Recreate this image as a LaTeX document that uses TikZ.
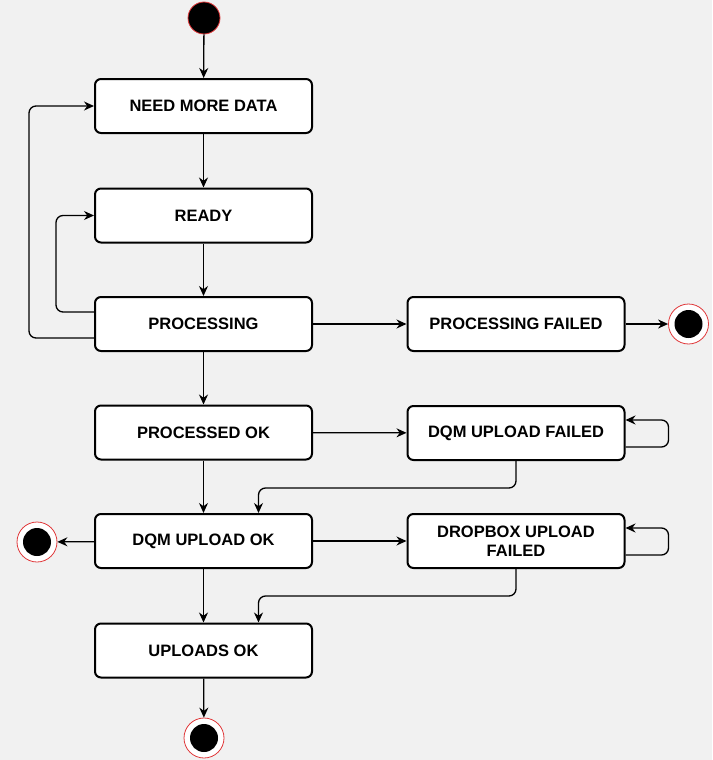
\documentclass[tikz,border=0pt]{standalone}
\usepackage{fontspec}
\setmainfont{Liberation Sans}
\usetikzlibrary{arrows.meta}
\definecolor{bg}{HTML}{F1F1F1}
\definecolor{ring}{HTML}{E0383A}
\begin{document}
\begin{tikzpicture}[x=1pt,y=-1pt,
  state/.style={draw=black, line width=2pt, fill=white, rounded corners=6pt,
    minimum width=217pt, minimum height=54pt, inner sep=0pt, align=center,
    font=\bfseries\fontsize{16.5}{19}\selectfont},
  conn/.style={draw=black, line width=1.3pt, -{Stealth[length=10pt,width=9pt]}, rounded corners=7pt},
  initst/.style={circle, fill=black, draw=ring, line width=0.8pt, minimum size=32pt, inner sep=0pt},
  finalst/.style={circle, fill=white, draw=ring, line width=0.8pt, minimum size=40pt, inner sep=0pt,
    path picture={\fill[black] (path picture bounding box.center) circle (14pt);}}
]
\fill[bg] (0,0) rectangle (712,760);
\path[use as bounding box] (0,0) rectangle (712,760);

\node[initst] (init) at (204,18) {};
\node[state] (need) at (203.5,106) {NEED MORE DATA};
\node[state] (ready) at (203.5,215.5) {READY};
\node[state] (proc) at (203.5,324) {PROCESSING};
\node[state] (pok) at (203.5,432.5) {PROCESSED OK};
\node[state] (dok) at (203.5,541) {DQM UPLOAD OK};
\node[state] (upok) at (203.5,650.5) {UPLOADS OK};
\node[state] (pfail) at (516,324) {PROCESSING FAILED};
\node[state] (dfail) at (516,433) {DQM UPLOAD FAILED};
\node[state] (xfail) at (516,541) {DROPBOX UPLOAD\\FAILED};
\node[finalst] (fin1) at (688.5,324) {};
\node[finalst] (fin2) at (37,542) {};
\node[finalst] (fin3) at (204,738) {};

\draw[conn] (init) -- (need);
\draw[conn] (need) -- (ready);
\draw[conn] (ready) -- (proc);
\draw[conn] ([yshift=12pt]proc.west) -- ++(-38,0) |- (ready.west);
\draw[conn] ([yshift=-14pt]proc.west) -- ++(-65,0) |- (need.west);
\draw[conn] (proc) -- (pfail);
\draw[conn] (pfail) -- (fin1);
\draw[conn] (proc) -- (pok);
\draw[conn] (pok) -- (dfail);
\draw[conn] ([yshift=-14pt]dfail.east) -- ++(43,0) |- ([yshift=13pt]dfail.east);
\draw[conn] (dfail.south) -- ++(0,27) -| ([xshift=55pt]dok.north);
\draw[conn] (pok) -- (dok);
\draw[conn] (dok) -- (fin2);
\draw[conn] (dok) -- (xfail);
\draw[conn] ([yshift=-14pt]xfail.east) -- ++(43,0) |- ([yshift=13pt]xfail.east);
\draw[conn] (xfail.south) -- ++(0,27) -| ([xshift=55pt]upok.north);
\draw[conn] (dok) -- (upok);
\draw[conn] (upok) -- (fin3);
\end{tikzpicture}
\end{document}
